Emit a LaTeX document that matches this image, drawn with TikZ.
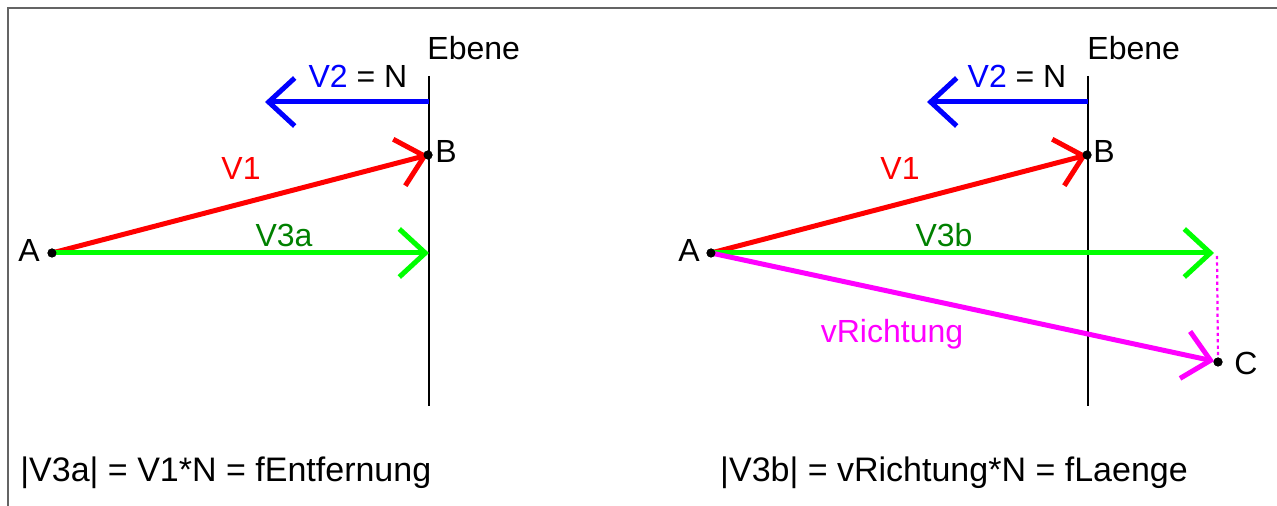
\documentclass[tikz,border=0pt]{standalone}
\usepackage{fontspec}
\setmainfont{Liberation Sans}
\usepackage{xcolor}
\usepackage{tikz}
\usetikzlibrary{arrows.meta}

\definecolor{vgreen}{RGB}{0,255,0}
\definecolor{tgreen}{RGB}{0,128,0}
\definecolor{vmagenta}{RGB}{255,0,255}
\definecolor{framegray}{RGB}{100,100,100}

\begin{document}
\begin{tikzpicture}[
    x=0.5pt,
    y=-0.5pt,
    every node/.style={
        inner sep=0pt,
        anchor=base,
        font=\fontsize{16}{19}\selectfont
    },
    vec/.style={
        line width=2.5pt,
        -{Straight Barb[length=13pt,width=24pt]}
    },
    ebene/.style={
        line width=1pt,
        black
    },
    punkt/.style={
        circle,
        fill=black,
        anchor=center,
        minimum size=4.5pt
    },
    formel/.style={
        font=\fontsize{17}{20}\selectfont
    }
]
    \useasboundingbox (0,0) rectangle (1277,506);
    \draw[framegray, line width=1pt] (8,506) -- (8,8) -- (1277,8);

    % left: V3a
    \coordinate (top1) at (429,76);
    \coordinate (bot1) at (429,406);
    \coordinate (n1) at (429,102);
    \coordinate (n1end) at (265,102);
    \coordinate (s1) at (429,253);
    \node[punkt] (A1) at (52,253) {};
    \node[punkt] (B1) at (428,155) {};

    \draw[ebene] (top1) -- (bot1);
    \draw[vec, blue] (n1) -- (n1end);
    \draw[vec, red] (A1.center) -- (B1.center);
    \draw[vec, vgreen] (A1.center) -- (s1);
    \node[punkt] at (A1) {};
    \node[punkt] at (B1) {};

    \node[anchor=base west] (eb1) at (427,60) {Ebene};
    \node (lv2a) at (358,88) {\textcolor{blue}{V2} = N};
    \node[text=red] (lv1a) at (241,180) {V1};
    \node[text=tgreen] (lv3a) at (284,247) {V3a};
    \node (la1) at (29,262) {A};
    \node[anchor=base west] (lb1) at (435,163) {B};
    \node[formel, anchor=base west] (f1) at (20,481) {|V3a| = V1*N = fEntfernung};

    % right: V3b
    \coordinate (top2) at (1088,76);
    \coordinate (bot2) at (1088,406);
    \coordinate (n2) at (1088,102);
    \coordinate (n2end) at (927,102);
    \coordinate (s2) at (1214,253);
    \coordinate (lot) at (1217,256);
    \node[punkt] (A2) at (711,253) {};
    \node[punkt] (B2) at (1087,155) {};
    \node[punkt] (C2) at (1218,362) {};

    \draw[ebene] (top2) -- (bot2);
    \draw[vec, blue] (n2) -- (n2end);
    \draw[vec, red] (A2.center) -- (B2.center);
    \draw[vec, vgreen] (A2.center) -- (s2);
    \draw[vec, vmagenta, shorten >=2pt] (A2.center) -- (C2.center);
    \draw[vmagenta, line width=1.1pt, dash pattern=on 1.6pt off 1.6pt] (lot) -- (C2.center);
    \node[punkt] at (A2) {};
    \node[punkt] at (B2) {};
    \node[punkt] at (C2) {};

    \node[anchor=base west] (eb2) at (1087,60) {Ebene};
    \node (lv2b) at (1017,88) {\textcolor{blue}{V2} = N};
    \node[text=red] (lv1b) at (900,180) {V1};
    \node[text=tgreen] (lv3b) at (944,247) {V3b};
    \node[text=vmagenta] (lvr) at (892,343) {vRichtung};
    \node (la2) at (689,262) {A};
    \node[anchor=base west] (lb2) at (1093,163) {B};
    \node (lc2) at (1246,375) {C};
    \node[formel] (f2) at (954,481) {|V3b| = vRichtung*N = fLaenge};
\end{tikzpicture}
\end{document}
